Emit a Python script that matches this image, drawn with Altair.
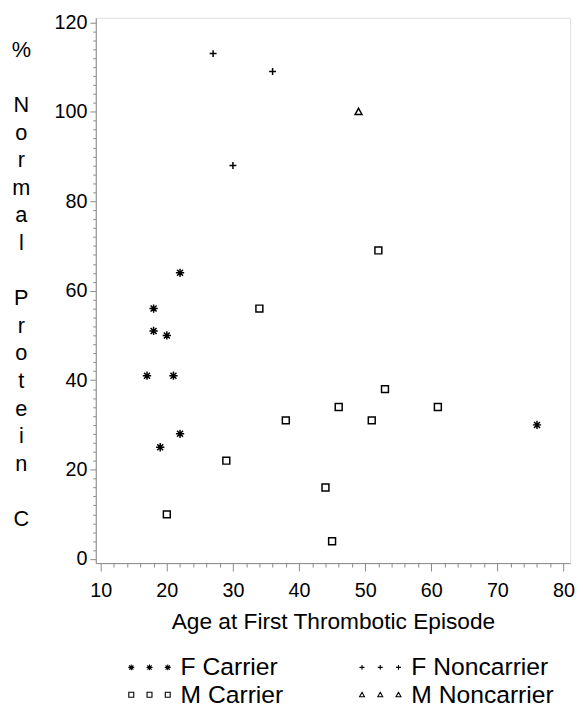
import altair as alt
import pandas as pd

# ---- data ----
groups = ["F Carrier", "F Noncarrier", "M Carrier", "M Noncarrier"]

f_carrier_age = [22, 18, 18, 20, 17, 21, 22, 19, 76]
f_carrier_pc = [64, 56, 51, 50, 41, 41, 28, 25, 30]

f_noncarrier_age = [27, 36, 30]
f_noncarrier_pc = [113, 109, 88]

m_carrier_age = [52, 34, 53, 46, 61, 38, 51, 29, 44, 20, 45]
m_carrier_pc = [69, 56, 38, 34, 34, 31, 31, 22, 16, 10, 4]

m_noncarrier_age = [49]
m_noncarrier_pc = [100]

x_ticks = list(range(10, 81, 2))     # labelled every 10
y_ticks = list(range(0, 121, 2))     # labelled every 20

BLANK = "\u2800"   # blank glyph that keeps an empty line in the stacked title
y_title = ["%", BLANK, "N", "o", "r", "m", "a", "l", BLANK,
           "P", "r", "o", "t", "e", "i", "n", BLANK, "C"]

rows = []
for g, ages, pcs in [
    (groups[0], f_carrier_age, f_carrier_pc),
    (groups[1], f_noncarrier_age, f_noncarrier_pc),
    (groups[2], m_carrier_age, m_carrier_pc),
    (groups[3], m_noncarrier_age, m_noncarrier_pc),
]:
    for a, p in zip(ages, pcs):
        rows.append({"group": g, "age": a, "pc": p})
df = pd.DataFrame(rows)


# ---- symbol paths ----
def fmt(v):
    return f"{v:.3f}".rstrip("0").rstrip(".")


def ast(cx=0.0, r=1.2):
    d = r * 0.72
    return (f"M{fmt(cx)},{fmt(-r)}L{fmt(cx)},{fmt(r)}"
            f"M{fmt(cx - r)},0L{fmt(cx + r)},0"
            f"M{fmt(cx - d)},{fmt(-d)}L{fmt(cx + d)},{fmt(d)}"
            f"M{fmt(cx - d)},{fmt(d)}L{fmt(cx + d)},{fmt(-d)}")


def plus(cx=0.0, r=1.0):
    return f"M{fmt(cx - r)},0L{fmt(cx + r)},0M{fmt(cx)},{fmt(-r)}L{fmt(cx)},{fmt(r)}"


def square(cx=0.0, r=1.0):
    return (f"M{fmt(cx - r)},{fmt(-r)}L{fmt(cx + r)},{fmt(-r)}"
            f"L{fmt(cx + r)},{fmt(r)}L{fmt(cx - r)},{fmt(r)}Z")


def tri(cx=0.0, r=1.0):
    return f"M{fmt(cx)},{fmt(-r)}L{fmt(cx + r)},{fmt(0.8 * r)}L{fmt(cx - r)},{fmt(0.8 * r)}Z"


plot_paths = [ast(), plus(), square(), tri()]
gap = 7.4
legend_paths = [
    "".join(f(c) for c in (-gap, 0, gap))
    for f in (ast, plus, square, tri)
]

FONT = "Liberation Sans"

xscale = alt.Scale(domain=[9.25, 81], nice=False, zero=False)
yscale = alt.Scale(domain=[-0.9, 121], nice=False, zero=False)

x_axis = alt.Axis(
    values=x_ticks,
    grid=False,
    labelExpr="datum.value % 10 === 0 ? datum.label : ''",
    tickSize={"condition": {"test": "datum.value % 10 === 0", "value": 8}, "value": 4},
    title="Age at First Thrombotic Episode",
    titleFontSize=23,
    titleFontWeight="normal",
    titlePadding=10,
    labelFontSize=20,
    labelPadding=10,
    labelFlush=False,
    labelOverlap=False,
)

y_axis = alt.Axis(
    values=y_ticks,
    grid=False,
    labelExpr="datum.value % 20 === 0 ? datum.label : ''",
    tickSize={"condition": {"test": "datum.value % 20 === 0", "value": 6}, "value": 3},
    title=y_title,
    titleAngle=0,
    titleAlign="center",
    titleBaseline="middle",
    titleX=-76,
    titleY=32,
    titleFontSize=22,
    titleFontWeight="normal",
    titleLineHeight=28,
    labelFontSize=20,
    labelPadding=3,
    labelFlush=False,
    labelOverlap=False,
)

points = alt.Chart(df).mark_point(
    filled=False, color="black", strokeWidth=1.5, size=49, opacity=1
).encode(
    x=alt.X("age:Q", scale=xscale, axis=x_axis),
    y=alt.Y("pc:Q", scale=yscale, axis=y_axis),
    shape=alt.Shape("group:N", scale=alt.Scale(domain=groups, range=plot_paths), legend=None),
)

legend_layer = alt.Chart(df).transform_filter("false").mark_point(
    filled=False, color="black", strokeWidth=1.1, opacity=1
).encode(
    x=alt.X("age:Q", scale=xscale, axis=x_axis),
    y=alt.Y("pc:Q", scale=yscale, axis=y_axis),
    shape=alt.Shape(
        "group:N",
        scale=alt.Scale(domain=groups, range=legend_paths),
        legend=alt.Legend(
            title=None,
            orient="none",
            legendX=24,
            legendY=646,
            columns=2,
            direction="horizontal",
            symbolSize=25,
            symbolStrokeWidth=1.1,
            symbolStrokeColor="black",
            symbolOffset=18,
            labelOffset=19,
            labelFont=FONT,
            labelFontSize=25,
            labelColor="black",
            rowPadding=2,
            columnPadding=67,
            labelLimit=400,
        ),
    ),
)

chart = alt.layer(points, legend_layer).resolve_scale(shape="independent").properties(
    width=481,
    height=553,
    autosize=alt.AutoSizeParams(type="none"),
    padding={"left": 89, "top": 5, "right": 5, "bottom": 143},
).configure_view(stroke=None).configure_axis(
    domainColor="black",
    domainWidth=2.5,
    tickColor="black",
    tickWidth=1.3,
    labelColor="black",
    titleColor="black",
    labelFont=FONT,
    titleFont=FONT,
    grid=False,
).configure(background="white")

chart.save("out.html", embed_options={"renderer": "svg", "actions": False})
